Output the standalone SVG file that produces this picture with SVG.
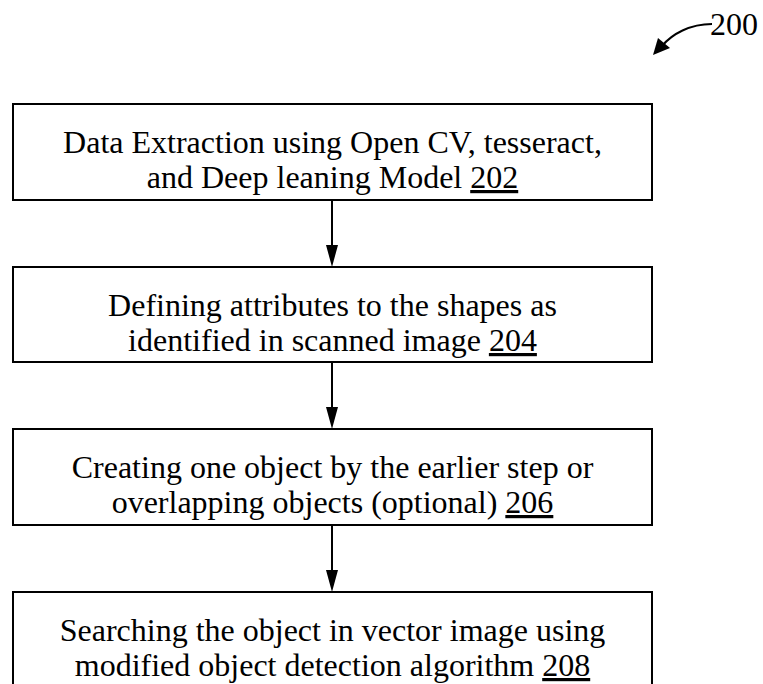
<svg xmlns="http://www.w3.org/2000/svg" width="763" height="684" viewBox="0 0 763 684">
<style>
.box{fill:#fff;stroke:#000;stroke-width:2}
.t{font-family:"Liberation Serif","Times New Roman",serif;font-size:32px;fill:#000;text-anchor:middle}
.u{text-decoration:underline}
.c{stroke:#000;stroke-width:2;fill:none}
</style>
<rect width="763" height="684" fill="#fff"/>
<g id="ref200">
<text x="734" y="35" class="t">200</text>
<path class="c" d="M712,24 C690,24 672,34 662,46" stroke-width="1.5"/>
<path d="M653,55 L658,38 L670,48 z" fill="#000"/>
</g>
<g id="n202">
<rect class="box" x="13" y="104" width="639" height="96"/>
<text class="t" x="332.5" y="153">Data Extraction using Open CV, tesseract,</text>
<text class="t" x="332.5" y="188">and Deep leaning Model <tspan class="u">202</tspan></text>
</g>
<g id="n204">
<rect class="box" x="13" y="267" width="639" height="95"/>
<text class="t" x="332.5" y="316">Defining attributes to the shapes as</text>
<text class="t" x="332.5" y="351">identified in scanned image <tspan class="u">204</tspan></text>
</g>
<g id="n206">
<rect class="box" x="13" y="429" width="639" height="96"/>
<text class="t" x="332.5" y="478">Creating one object by the earlier step or</text>
<text class="t" x="332.5" y="513">overlapping objects (optional) <tspan class="u">206</tspan></text>
</g>
<g id="n208">
<rect class="box" x="13" y="592" width="639" height="100"/>
<text class="t" x="332.5" y="641">Searching the object in vector image using</text>
<text class="t" x="332.5" y="676">modified object detection algorithm <tspan class="u">208</tspan></text>
</g>
<g id="connectors">
<line class="c" x1="332" y1="200" x2="332" y2="250"/>
<path d="M326,245 L338,245 L332,267 z"/>
<line class="c" x1="332" y1="362" x2="332" y2="412"/>
<path d="M326,407 L338,407 L332,429 z"/>
<line class="c" x1="332" y1="525" x2="332" y2="575"/>
<path d="M326,570 L338,570 L332,592 z"/>
</g>
</svg>
